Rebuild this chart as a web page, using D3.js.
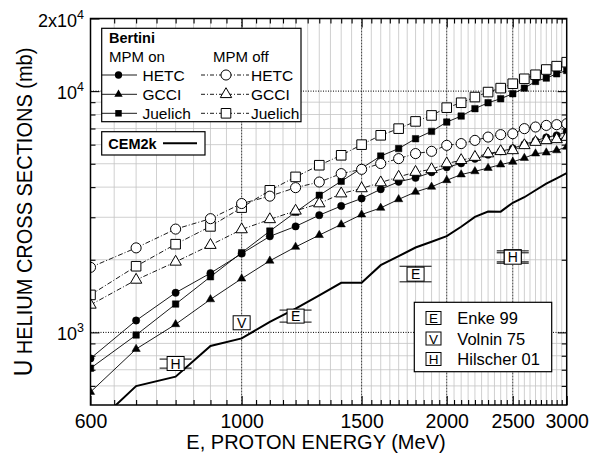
<!DOCTYPE html>
<html>
<head>
<meta charset="utf-8">
<script src="https://cdn.jsdelivr.net/npm/d3@7"></script>
<style>
  body { margin: 0; background: #fff; }
  text { font-family: "Liberation Sans", Arial, Helvetica, sans-serif; fill: #000; }
</style>
</head>
<body>
<script>

// SVG size and plot frame
const w = 604;
const h = 457;
const frame = { left: 90.5, right: 566.7, top: 18.5, bottom: 405 };

// Proton energies (MeV)
const energy = [600, 700, 800, 900, 1000, 1100, 1200, 1300, 1400, 1500, 1600, 1700, 1800,
                1900, 2000, 2100, 2200, 2300, 2400, 2500, 2600, 2700, 2800, 2900, 3000];

// Bertini, MPM on (mb)
const hetcOn = [780, 1120, 1460, 1760, 2120, 2500, 2750, 3060, 3340, 3590, 3920, 4210, 4370,
                4610, 4830, 5020, 5240, 5450, 5630, 5790, 6020, 6220, 6430, 6560, 6780];
const gcciOn = [566, 853, 1080, 1370, 1670, 1980, 2260, 2530, 2800, 3080, 3280, 3560, 3820,
                4010, 4270, 4510, 4650, 4800, 4960, 5090, 5280, 5510, 5560, 5680, 5870];
const juelichOn = [710, 975, 1310, 1700, 2140, 2630, 3150, 3700, 4230, 4790, 5380, 5780, 6350,
                   6810, 7440, 7880, 8460, 8950, 9300, 9760, 10290, 10970, 11320, 11800, 12180];

// Bertini, MPM off (mb)
const hetcOff = [1860, 2240, 2680, 2960, 3420, 3670, 3980, 4200, 4550, 4740, 5010, 5250, 5510,
                 5630, 5960, 6060, 6250, 6450, 6600, 6660, 6990, 7100, 7210, 7260, 7330];
const gcciOff = [1300, 1650, 1960, 2300, 2670, 2940, 3190, 3420, 3760, 3950, 4180, 4410, 4620,
                 4740, 5010, 5170, 5330, 5510, 5630, 5680, 5960, 6150, 6250, 6310, 6450];
const juelichOff = [1430, 1880, 2320, 2750, 3290, 3880, 4410, 4930, 5420, 6000, 6560, 6990, 7490,
                    7930, 8540, 8950, 9450, 9910, 10290, 10730, 11250, 11690, 12290, 12690, 13180];

// CEM2k (mb)
const cem2k = [398, 599, 655, 878, 944, 1106, 1254, 1424, 1605, 1605, 1899, 2069, 2248,
               2376, 2504, 2741, 3010, 3168, 3165, 3445, 3632, 3882, 4137, 4352, 4577];

// Measurements: letter, energy, value, error bar low/high
const expLetter = ["H", "V", "E", "E", "H", "H"];
const expEnergy = [800, 1000, 1200, 1800, 2500, 2500];
const expValue  = [743, 1096, 1168, 1743, 2060, 2050];
const expLow    = [711, 1096, 1103, 1620, 1935, 1960];
const expHigh   = [775, 1096, 1237, 1880, 2177, 2137];

// Ticks
const xTickLabels = [600, 1000, 1500, 2000, 2500, 3000];
const xMajorGrid = [1000, 1500, 2000, 2500];
const yMajorGrid = [1000, 10000];
const yMinor = [600, 700, 800, 900, 2000, 3000, 4000, 5000, 6000, 7000, 8000, 9000];
const yTickValues = [20000, 10000, 1000];
const yTickBase = ["2x10", "10", "10"];
const yTickExp = ["4", "4", "3"];

// Scales
const xScale = d3.scaleLog().domain([600, 3000]).range([frame.left, frame.right]);
const yScale = d3.scaleLog().domain([500, 20000]).range([frame.bottom, frame.top]);
const xMinor = d3.range(650, 3000, 50).filter(v => xMajorGrid.indexOf(v) < 0);

const svg = d3.select("body").append("svg")
    .attr("width", w)
    .attr("height", h);

svg.append("clipPath").attr("id", "plot")
  .append("rect")
    .attr("x", frame.left).attr("y", frame.top)
    .attr("width", frame.right - frame.left)
    .attr("height", frame.bottom - frame.top);

// Minor grid
const grid = svg.append("g");
grid.selectAll(".vx").data(xMinor).join("line")
    .attr("x1", d => xScale(d)).attr("x2", d => xScale(d))
    .attr("y1", frame.top).attr("y2", frame.bottom)
    .attr("stroke", "#c4c4c4").attr("stroke-width", 0.8);
grid.selectAll(".hy").data(yMinor).join("line")
    .attr("x1", frame.left).attr("x2", frame.right)
    .attr("y1", d => yScale(d)).attr("y2", d => yScale(d))
    .attr("stroke", "#c4c4c4").attr("stroke-width", 0.8);

// Major grid
grid.selectAll(".mx").data(xMajorGrid).join("line")
    .attr("x1", d => xScale(d)).attr("x2", d => xScale(d))
    .attr("y1", frame.top).attr("y2", frame.bottom)
    .attr("stroke", "#222").attr("stroke-width", 0.9).attr("stroke-dasharray", "2,1");
grid.selectAll(".my").data(yMajorGrid).join("line")
    .attr("x1", frame.left).attr("x2", frame.right)
    .attr("y1", d => yScale(d)).attr("y2", d => yScale(d))
    .attr("stroke", "#000").attr("stroke-width", 1).attr("stroke-dasharray", "1,1.5");

// Ticks (inward) on all four sides
const fmtNone = () => "";
svg.append("g").attr("transform", `translate(0,${frame.bottom})`)
    .call(d3.axisBottom(xScale).tickValues(xMinor).tickSize(-5).tickFormat(fmtNone));
svg.append("g").attr("transform", `translate(0,${frame.bottom})`)
    .call(d3.axisBottom(xScale).tickValues(xTickLabels).tickSize(-9).tickPadding(9)
      .tickFormat(d3.format("d")));
svg.append("g").attr("transform", `translate(0,${frame.top})`)
    .call(d3.axisTop(xScale).tickValues(xMinor).tickSize(-5).tickFormat(fmtNone));
svg.append("g").attr("transform", `translate(0,${frame.top})`)
    .call(d3.axisTop(xScale).tickValues(xMajorGrid).tickSize(-9).tickFormat(fmtNone));
svg.append("g").attr("transform", `translate(${frame.left},0)`)
    .call(d3.axisLeft(yScale).tickValues(yMinor).tickSize(-5).tickFormat(fmtNone));
svg.append("g").attr("transform", `translate(${frame.left},0)`)
    .call(d3.axisLeft(yScale).tickValues(yTickValues).tickSize(-9).tickFormat(fmtNone));
svg.append("g").attr("transform", `translate(${frame.right},0)`)
    .call(d3.axisRight(yScale).tickValues(yMinor).tickSize(-5).tickFormat(fmtNone));
svg.append("g").attr("transform", `translate(${frame.right},0)`)
    .call(d3.axisRight(yScale).tickValues(yTickValues).tickSize(-9).tickFormat(fmtNone));
svg.selectAll(".domain").remove();
svg.selectAll(".tick line").attr("stroke", "#000").attr("stroke-width", 1.1);
svg.selectAll(".tick text").attr("font-size", 19.5).style("font-family", "'Liberation Sans', Arial, sans-serif");

// Y tick labels with superscripts
const yLab = svg.append("g").selectAll("text").data(yTickValues).join("text")
    .attr("x", 84)
    .attr("y", d => yScale(d) + 8)
    .attr("text-anchor", "end")
    .attr("font-size", 18);
yLab.append("tspan").text((d, i) => yTickBase[i]);
yLab.append("tspan").attr("dy", -8).attr("font-size", 12.5).text((d, i) => yTickExp[i]);

// Series
const plot = svg.append("g").attr("clip-path", "url(#plot)");
const line = d3.line().x(d => xScale(d[0])).y(d => yScale(d[1]));
const pts = vals => energy.map((e, i) => [e, vals[i]]);

const series = [
    { vals: juelichOn, sym: d3.symbolSquare, size: 42, open: false },
    { vals: hetcOn, sym: d3.symbolCircle, size: 42, open: false },
    { vals: gcciOn, sym: d3.symbolTriangle, size: 30, open: false },
    { vals: juelichOff, sym: d3.symbolSquare, size: 92, open: true },
    { vals: hetcOff, sym: d3.symbolCircle, size: 80, open: true },
    { vals: gcciOff, sym: d3.symbolTriangle, size: 56, open: true }
];

series.forEach(s => {
    plot.append("path")
        .datum(pts(s.vals))
        .attr("d", line)
        .attr("fill", "none")
        .attr("stroke", "#000")
        .attr("stroke-width", 0.9)
        .attr("stroke-dasharray", s.open ? "5,2,1,2" : null);
});
series.forEach(s => {
    plot.selectAll(null).data(pts(s.vals)).join("path")
        .attr("transform", d => `translate(${xScale(d[0])},${yScale(d[1])})`)
        .attr("d", d3.symbol(s.sym, s.size))
        .attr("fill", s.open ? "#fff" : "#000")
        .attr("stroke", "#000")
        .attr("stroke-width", s.open ? 1 : 0.5);
});

// CEM2k line
plot.append("path")
    .datum(pts(cem2k))
    .attr("d", line)
    .attr("fill", "none")
    .attr("stroke", "#000")
    .attr("stroke-width", 2);

// Measurements with error bars
const meas = svg.append("g").selectAll("g").data(expEnergy).join("g")
    .attr("transform", (d, i) => `translate(${xScale(d)},${yScale(expValue[i])})`);
meas.each(function(d, i) {
    const g = d3.select(this);
    if (expLow[i] === expHigh[i]) return;
    const yl = yScale(expLow[i]) - yScale(expValue[i]);
    const yh = yScale(expHigh[i]) - yScale(expValue[i]);
    g.append("line").attr("x1", 0).attr("x2", 0).attr("y1", yl).attr("y2", yh).attr("stroke", "#000");
    [yl, yh].forEach(yy => g.append("line")
        .attr("x1", -16).attr("x2", 16).attr("y1", yy).attr("y2", yy)
        .attr("stroke", "#000").attr("stroke-width", 1));
});
meas.append("rect")
    .attr("x", -8.5).attr("y", -7).attr("width", 17).attr("height", 14)
    .attr("fill", "#fff").attr("stroke", "#000").attr("stroke-width", 1);
meas.append("text")
    .attr("text-anchor", "middle").attr("y", 5)
    .attr("font-size", 14)
    .text((d, i) => expLetter[i]);

// Frame
svg.append("rect")
    .attr("x", frame.left).attr("y", frame.top)
    .attr("width", frame.right - frame.left).attr("height", frame.bottom - frame.top)
    .attr("fill", "none").attr("stroke", "#000").attr("stroke-width", 1.5);

// Axis titles
svg.append("text")
    .attr("x", 316).attr("y", 449)
    .attr("text-anchor", "middle")
    .attr("font-size", 20)
    .text("E, PROTON ENERGY (MeV)");

const yTitle = svg.append("text")
    .attr("transform", "translate(31.5,212) rotate(-90) scale(1,1.1)")
    .attr("text-anchor", "middle")
    .attr("font-size", 20);
yTitle.append("tspan").attr("font-size", 23).text("U");
yTitle.append("tspan").text(" HELIUM CROSS SECTIONS (mb)");

// Bertini legend
const leg = svg.append("g");
leg.append("rect").attr("x", 101.7).attr("y", 28.3).attr("width", 199.3).attr("height", 93.4)
    .attr("fill", "#fff").attr("stroke", "#000").attr("stroke-width", 1.2);
leg.append("text").attr("x", 109).attr("y", 42.5).attr("font-size", 14.5).attr("font-weight", "bold").text("Bertini");
leg.append("text").attr("x", 109).attr("y", 61.5).attr("font-size", 15).text("MPM on");
leg.append("text").attr("x", 213).attr("y", 61.5).attr("font-size", 15).text("MPM off");

const legNames = ["HETC", "GCCI", "Juelich"];
const legRowY = [75, 94.3, 113.3];
const legSyms = [d3.symbolCircle, d3.symbolTriangle, d3.symbolSquare];
const legOnSize = [42, 30, 42];
const legOffSize = [80, 56, 92];
legNames.forEach((name, i) => {
    const yy = legRowY[i];
    leg.append("line").attr("x1", 101.7).attr("x2", 137).attr("y1", yy).attr("y2", yy)
        .attr("stroke", "#000").attr("stroke-width", 0.9);
    leg.append("path").attr("transform", `translate(118.5,${yy})`)
        .attr("d", d3.symbol(legSyms[i], legOnSize[i])).attr("fill", "#000");
    leg.append("text").attr("x", 142.5).attr("y", yy + 5.5).attr("font-size", 15.5).text(name);
    leg.append("line").attr("x1", 201).attr("x2", 249).attr("y1", yy).attr("y2", yy)
        .attr("stroke", "#000").attr("stroke-width", 0.9).attr("stroke-dasharray", "4,2,1,2");
    leg.append("path").attr("transform", `translate(226,${yy})`)
        .attr("d", d3.symbol(legSyms[i], legOffSize[i])).attr("fill", "#fff").attr("stroke", "#000");
    leg.append("text").attr("x", 251).attr("y", yy + 5.5).attr("font-size", 15.5).text(name);
});

// CEM2k legend
leg.append("rect").attr("x", 101.7).attr("y", 131.7).attr("width", 103.3).attr("height", 23.3)
    .attr("fill", "#fff").attr("stroke", "#000").attr("stroke-width", 1.2);
leg.append("text").attr("x", 108.3).attr("y", 148.5).attr("font-size", 14.5).attr("font-weight", "bold").text("CEM2k");
leg.append("line").attr("x1", 163).attr("x2", 197).attr("y1", 143.3).attr("y2", 143.3)
    .attr("stroke", "#000").attr("stroke-width", 2);

// Measurement legend
const expNames = ["Enke 99", "Volnin 75", "Hilscher 01"];
const expKeys = ["E", "V", "H"];
const expRowY = [318, 338.5, 359];
leg.append("rect").attr("x", 414.3).attr("y", 302.3).attr("width", 137.4).attr("height", 69.4)
    .attr("fill", "#fff").attr("stroke", "#000").attr("stroke-width", 1.2);
expNames.forEach((name, i) => {
    const yy = expRowY[i];
    leg.append("rect").attr("x", 426).attr("y", yy - 6.5).attr("width", 15).attr("height", 13)
        .attr("fill", "#fff").attr("stroke", "#000");
    leg.append("text").attr("x", 433.5).attr("y", yy + 5).attr("text-anchor", "middle")
        .attr("font-size", 13.5).text(expKeys[i]);
    leg.append("text").attr("x", 457.3).attr("y", yy + 6).attr("font-size", 16.5).text(name);
});

</script>
</body>
</html>
